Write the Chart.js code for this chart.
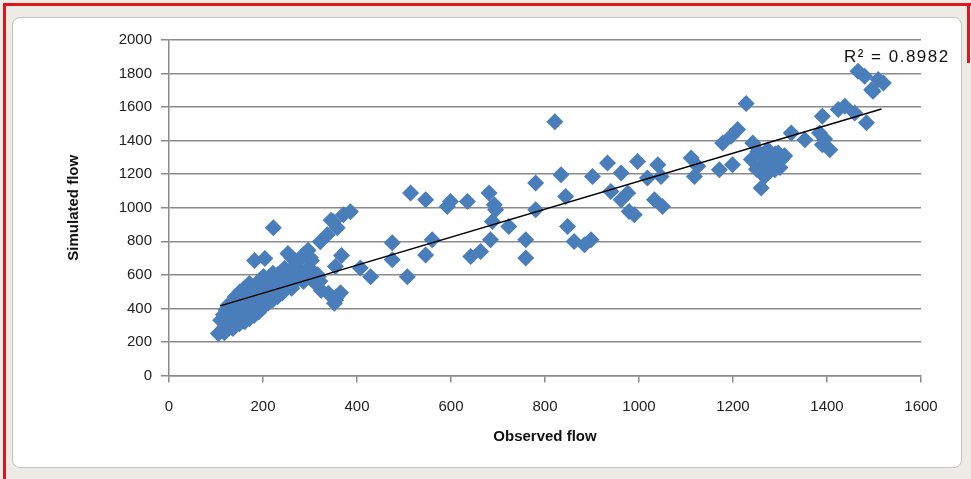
<!DOCTYPE html>
<html lang="en">

<head>
    <meta charset="UTF-8">
    <title>Observed vs simulated flow</title>
    <script src="https://cdn.jsdelivr.net/npm/chart.js@4.4.1/dist/chart.umd.min.js"></script>
    <style>
        body {
            margin: 0;
            width: 971px;
            height: 479px;
            background: #ecebe6;
            position: relative;
            overflow: hidden;
        }
        #redTop { position: absolute; left: 3px; top: 3px; width: 968px; height: 3px; background: #e0161b; }
        #redLeft { position: absolute; left: 3px; top: 3px; width: 3px; height: 476px; background: #e0161b; }
        #redRight { position: absolute; left: 967px; top: 3px; width: 3px; height: 60px; background: #e0161b; }
        #panel {
            position: absolute;
            left: 12px;
            top: 17px;
            width: 950px;
            height: 451px;
            background: #fff;
            border: 1px solid #c4c4c4;
            border-radius: 8px;
            box-sizing: border-box;
        }
        #myChart { position: absolute; left: -1px; top: -1px; }
    </style>
</head>

<body>
<div id="redTop"></div>
<div id="redLeft"></div>
<div id="redRight"></div>
<div id="panel">
    <canvas id="myChart" width="950" height="451" style="width:950px;height:451px"></canvas>
</div>

<script>
    // observed (x) and simulated (y) flow
    var observed = [
        105, 112, 118, 125, 130, 136, 140, 146, 150, 156, 161, 166, 171, 176, 181, 186, 191, 196, 202, 211,
        221, 231, 241, 110, 116, 121, 126, 131, 136, 141, 146, 151, 156, 161, 166, 171, 176, 181, 186, 191,
        196, 201, 206, 211, 216, 221, 226, 231, 236, 241, 246, 251, 256, 261, 266, 271, 276, 281, 286, 291,
        296, 301, 306, 311, 316, 321, 141, 151, 161, 171, 181, 191, 201, 211, 221, 231, 246, 256, 266, 262,
        276, 286, 301,
        182, 204, 253, 268, 296, 303, 367, 354, 275, 247, 225, 318, 339, 354, 324, 365, 357, 352, 222, 371,
        386, 350, 358, 337, 322, 345,
        475, 475, 507, 429, 407, 514, 546, 592, 599, 635, 681, 692, 695, 688, 723, 780, 780, 834, 844, 848,
        862, 884, 898, 901, 933, 962, 940, 976, 962, 979, 990, 997, 1040, 1018, 1047, 1033, 1050, 546, 560, 642,
        663, 684, 759, 759, 821,
        1228, 1210, 1196, 1178, 1242, 1253, 1239, 1274, 1296, 1303, 1281, 1260, 1289, 1267, 1260, 1324, 1353, 1390, 1384, 1390,
        1406, 1424, 1438, 1459, 1484, 1498, 1111, 1125, 1118, 1171, 1199, 1270, 1285, 1300, 1250, 1275, 1290, 1310, 1395,
        1466, 1480, 1509, 1495, 1520
    ];
    var simulated = [
        250, 268, 255, 290, 312, 280, 300, 330, 308, 342, 320, 352, 338, 372, 358, 392, 378, 402, 412, 432,
        452, 470, 492, 330, 362, 392, 420, 350, 382, 410, 440, 372, 400, 432, 460, 410, 442, 470, 500, 450,
        480, 510, 470, 500, 530, 520, 490, 540, 512, 560, 530, 552, 580, 520, 560, 600, 578, 620, 560, 602,
        640, 580, 620, 552, 600, 562, 470, 500, 522, 548, 532, 562, 590, 572, 610, 600, 640, 622, 650, 700,
        682, 720, 702,
        686, 698, 728, 686, 746, 686, 716, 650, 627, 609, 567, 591, 490, 448, 507, 493, 470, 430, 881, 958,
        976, 916, 881, 839, 797, 925,
        791, 690, 588, 588, 641, 1088, 1048, 1008, 1038, 1038, 1088, 1018, 988, 918, 888, 1147, 988, 1197, 1067, 888,
        799, 779, 809, 1187, 1267, 1207, 1097, 1088, 1048, 978, 958, 1276, 1256, 1177, 1187, 1048, 1008, 719, 809, 709,
        739, 809, 809, 700, 1512,
        1621, 1466, 1426, 1386, 1386, 1336, 1287, 1346, 1327, 1287, 1287, 1247, 1227, 1187, 1118, 1446, 1406, 1545, 1446, 1376,
        1346, 1585, 1605, 1565, 1506, 1694, 1297, 1247, 1187, 1227, 1257, 1300, 1260, 1240, 1230, 1210, 1320, 1310, 1410,
        1814, 1784, 1764, 1704, 1744
    ];

    // linear trendline end points
    var trendX = [109, 1516];
    var trendY = [415, 1589];
    var r2Text = "R\u00B2 = 0.8982";

    var points = [];
    for (var i = 0; i < observed.length; i++) {
        points.push({ x: observed[i], y: simulated[i] });
    }
    var trend = [];
    for (var i = 0; i < trendX.length; i++) {
        trend.push({ x: trendX[i], y: trendY[i] });
    }

    var axisGray = "#8a8a8a";
    var labelFont = { family: "'Liberation Sans', Arial, sans-serif", size: 15 };
    var titleFont = { family: "'Liberation Sans', Arial, sans-serif", size: 15, weight: "bold" };

    // plain numbers, no thousands separator
    function plain(value) {
        return String(value);
    }

    // draws the R² text next to the trendline end
    var r2Label = {
        id: "r2Label",
        afterDraw: function (chart) {
            var c = chart.ctx;
            var xs = chart.scales.x;
            var ys = chart.scales.y;
            c.save();
            c.font = "17px 'Liberation Sans', Arial, sans-serif";
            c.letterSpacing = "1.5px";
            c.fillStyle = "#111";
            c.textAlign = "left";
            c.textBaseline = "middle";
            c.fillText(r2Text, xs.getPixelForValue(1436), ys.getPixelForValue(1898));
            c.restore();
        }
    };

    var ctx = document.getElementById("myChart");
    var myChart = new Chart(ctx, {
        type: "scatter",
        data: {
            datasets: [
                {
                    type: "line",
                    data: trend,
                    borderColor: "#000",
                    borderWidth: 1.5,
                    pointRadius: 0,
                    fill: false
                },
                {
                    data: points,
                    pointStyle: "rectRot",
                    pointRadius: 8.5,
                    backgroundColor: "#4a7ebb",
                    borderWidth: 0
                }
            ]
        },
        options: {
            responsive: false,
            animation: false,
            layout: { padding: { left: 0, right: 41, top: 23, bottom: 0 } },
            plugins: {
                legend: { display: false },
                tooltip: { enabled: false }
            },
            scales: {
                x: {
                    type: "linear",
                    min: 0,
                    max: 1600,
                    ticks: { stepSize: 200, padding: 15, color: "#222", font: labelFont, maxRotation: 0, callback: plain },
                    grid: { drawOnChartArea: false, tickLength: 7, color: axisGray, lineWidth: 1.5 },
                    border: { color: axisGray, width: 1.5 },
                    title: { display: true, text: "Observed flow", color: "#111", font: titleFont, padding: { top: 0, bottom: 22 } },
                    afterFit: function (s) { s.height = 92.5; }
                },
                y: {
                    min: 0,
                    max: 2000,
                    ticks: { stepSize: 200, padding: 9, color: "#222", font: labelFont, callback: plain },
                    grid: { color: axisGray, lineWidth: 1.5, tickLength: 8 },
                    border: { color: axisGray, width: 1.5 },
                    title: { display: true, text: "Simulated flow", color: "#111", font: titleFont, padding: { top: 53, bottom: 0 } },
                    afterFit: function (s) { s.width = 157; }
                }
            }
        },
        plugins: [r2Label]
    });
</script>

</body>

</html>
